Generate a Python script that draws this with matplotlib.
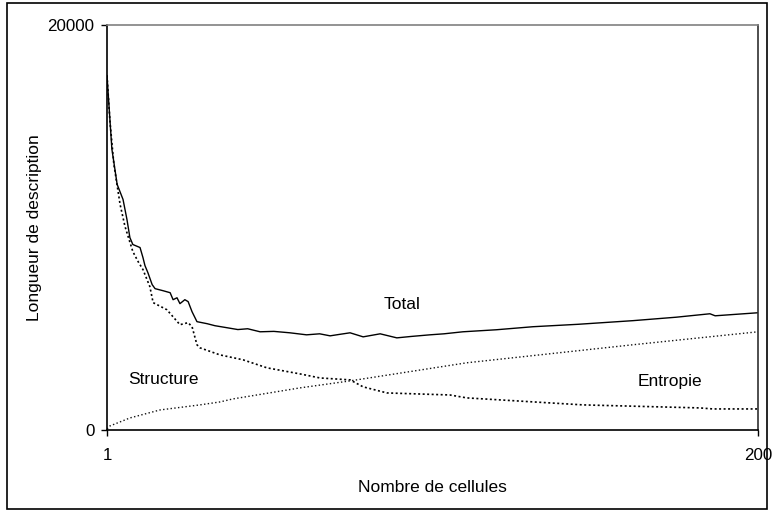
import matplotlib
matplotlib.use("Agg")
import matplotlib.pyplot as plt
from matplotlib.patches import Rectangle

plt.rcParams['font.family'] = ['Liberation Sans', 'DejaVu Sans']

# Data
total_x = [1, 1.9, 2.5, 3.1, 4.1, 5.9, 7.1, 8.0, 8.9, 11.1, 12.0, 12.6, 13.5, 14.8, 15.7,
           18.1, 20.3, 21.2, 22.4, 23.3, 24.8, 25.8, 27.0, 28.5, 31.6, 34.0, 37.7, 41.0,
           44.0, 47.8, 52.0, 56.9, 62.0, 66.0, 69.2, 72.0, 75.3, 79.3, 84.5, 89.6, 94.0,
           99.7, 104.0, 109.8, 120.0, 131.2, 145.0, 161.8, 175.0, 185.3, 186.9, 200]
total_y = [17500, 15300, 13860, 13220, 12130, 11385, 10395, 9500, 9160, 9010, 8510, 8120,
           7770, 7180, 6980, 6880, 6780, 6435, 6530, 6240, 6435, 6340, 5840, 5350, 5250,
           5150, 5050, 4960, 5000, 4850, 4870, 4800, 4700, 4750, 4650, 4720, 4800, 4600,
           4750, 4550, 4620, 4700, 4750, 4850, 4950, 5100, 5220, 5400, 5570, 5740, 5640,
           5790]

struct_x = [1, 1.9, 3.1, 5.0, 6.5, 8.9, 10.5, 12.0, 14.1, 15.1, 19.3, 23.3, 25.8, 27.0,
            28.5, 29.4, 35.5, 42.6, 49.9, 60.0, 66.1, 75.3, 79.3, 86.6, 105.8, 111.0,
            146.5, 182.3, 186.2, 200]
struct_y = [17500, 15250, 13120, 11140, 10050, 8810, 8320, 7920, 7080, 6290, 5940, 5200,
            5300, 5100, 4210, 4060, 3710, 3465, 3070, 2770, 2570, 2475, 2130, 1830, 1730,
            1585, 1240, 1090, 1040, 1040]

entropy_x = [1, 1.9, 8.0, 17.2, 29.4, 35.5, 39.5, 60.0, 75.3, 111.0, 161.8, 200]
entropy_y = [50, 200, 595, 990, 1240, 1385, 1535, 2080, 2425, 3320, 4210, 4850]

x_ticks = [1, 200]
y_ticks = [0, 20000]

fig = plt.figure(figsize=(7.74, 5.11), dpi=100)
ax = fig.add_axes([107/774, (511-430)/511, (758-107)/774, (430-25)/511])

ax.plot(total_x, total_y, color='black', lw=1.0, solid_joinstyle='round')
ax.plot(struct_x, struct_y, color='black', lw=1.2, linestyle=(0, (1.2, 1.5)))
ax.plot(entropy_x, entropy_y, color='#111111', lw=1.0, linestyle=(0, (1, 1.7)))

ax.set_xlim(1, 200)
ax.set_ylim(0, 20000)
ax.set_xticks(x_ticks)
ax.set_yticks(y_ticks)
ax.set_xticklabels([str(v) for v in x_ticks])
ax.set_yticklabels([str(v) for v in y_ticks])
ax.tick_params(axis='both', direction='out', length=4, width=1, labelsize=12.2, color='black')
ax.tick_params(axis='x', pad=9)
ax.tick_params(axis='y', pad=5)

for s in ['left', 'bottom']:
    ax.spines[s].set_color('black')
    ax.spines[s].set_linewidth(1.2)
ax.spines['top'].set_color('#808080')
ax.spines['top'].set_linewidth(1.2)
ax.spines['right'].set_color('#303030')
ax.spines['right'].set_linewidth(1.2)

ax.set_xlabel('Nombre de cellules', fontsize=12.5, labelpad=12)
ax.set_ylabel('Longueur de description', fontsize=12.5, labelpad=4)

ax.text(91.2, 6190, 'Total', fontsize=12.5, ha='center', va='center')
ax.text(18.1, 2475, 'Structure', fontsize=12.5, ha='center', va='center')
ax.text(173.1, 2376, 'Entropie', fontsize=12.5, ha='center', va='center')

fig.patches.append(Rectangle((7/774, 2/511), (767-7)/774, (508-2)/511,
                             transform=fig.transFigure, fill=False,
                             edgecolor='black', lw=1.2))

fig.savefig('out.png', dpi=100)
